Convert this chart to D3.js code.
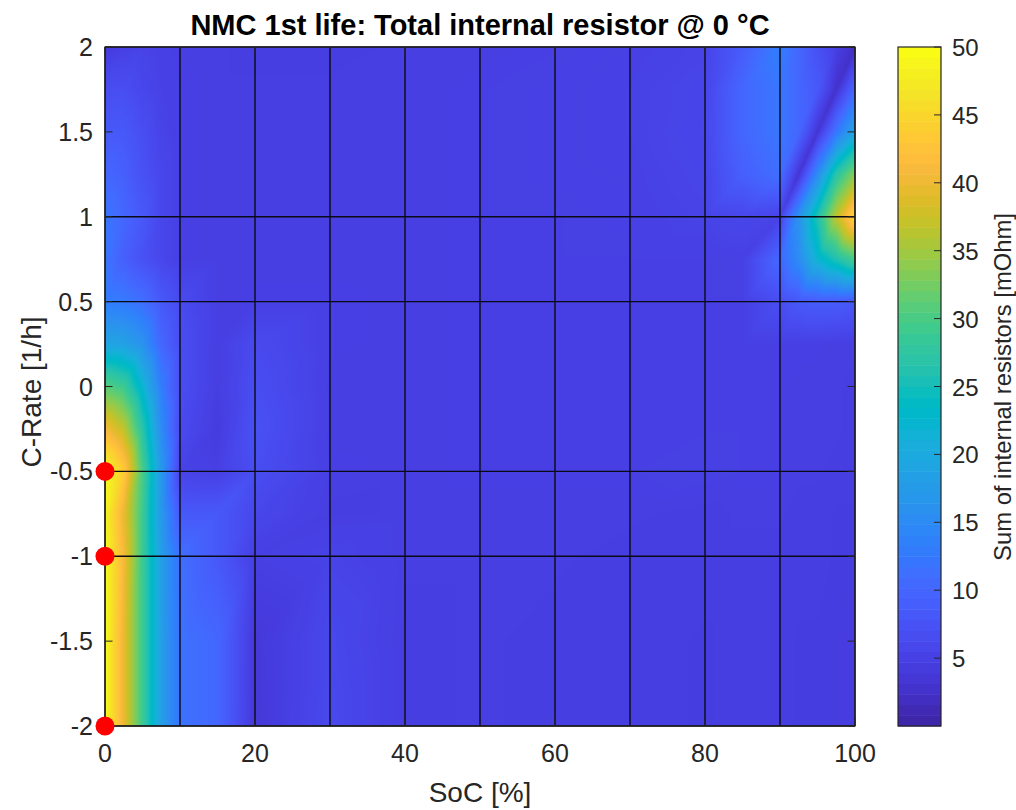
<!DOCTYPE html>
<html><head><meta charset="utf-8">
<script src="https://cdn.jsdelivr.net/npm/d3@7"></script>
<style>
body{margin:0;background:#fff;}
text{font-family:"Liberation Sans",Arial,Helvetica,sans-serif;fill:#262626;}
</style>
</head><body>
<svg id="chart" width="1016" height="810"></svg>
<script>
// ---------------- data ----------------
const socGrid = [0, 2.5, 5, 7.5, 10, 15, 20, 30, 40, 50, 60, 70, 80, 85, 90, 92.5, 95, 97.5, 100];
const crateGrid = [-2, -1.5, -1, -0.75, -0.5, -0.25, 0, 0.25, 0.5, 0.75, 1, 1.25, 1.5, 1.75, 2];
// total internal resistance [mOhm], one array per C-rate row (same order as crateGrid)
const R_m2_00 = [50, 40, 29, 18, 11.5, 10, 3.4, 5.8, 4.3, 4.4, 4.3, 4.3, 4.2, 4.3, 4.3, 4.2, 4.2, 4.1, 4.0];
const R_m1_50 = [50, 40, 29, 18, 11.5, 10, 3.5, 5.6, 4.3, 4.4, 4.3, 4.3, 4.2, 4.3, 4.3, 4.2, 4.2, 4.1, 4.0];
const R_m1_00 = [50, 41, 29, 18, 11, 8, 4.5, 5.0, 4.4, 4.4, 4.4, 4.3, 4.3, 4.3, 4.3, 4.3, 4.3, 4.2, 4.1];
const R_m0_75 = [49, 40, 29, 17, 8, 8, 5.5, 4.3, 4.4, 4.4, 4.4, 4.4, 4.3, 4.4, 4.4, 4.3, 4.3, 4.2, 4.2];
const R_m0_50 = [50, 44, 30, 17, 5, 4.5, 6.5, 4.5, 4.4, 4.5, 4.5, 4.5, 4.6, 4.5, 4.5, 4.4, 4.4, 4.3, 4.3];
const R_m0_25 = [41, 37, 27, 15, 6, 4.0, 7, 4.4, 4.4, 4.5, 4.5, 4.5, 4.5, 4.5, 4.5, 4.4, 4.4, 4.4, 4.3];
const R_p0_00 = [31, 29, 22, 13, 6.5, 4.3, 6.5, 4.4, 4.4, 4.5, 4.5, 4.5, 4.5, 4.5, 4.5, 4.4, 4.4, 4.4, 4.3];
const R_p0_25 = [19, 18.5, 16, 10, 6.5, 4.4, 6, 4.5, 4.4, 4.5, 4.5, 4.5, 4.5, 4.5, 4.5, 4.5, 4.5, 4.4, 4.4];
const R_p0_50 = [13, 12.5, 11, 8, 6, 4.4, 4.5, 4.5, 4.4, 4.5, 4.5, 4.5, 4.5, 4.5, 6.5, 8, 8.5, 8.5, 8];
const R_p0_75 = [12, 9, 7, 5.5, 4.5, 4.4, 4.4, 4.4, 4.4, 4.5, 4.5, 4.5, 4.5, 4.6, 10, 15, 22, 26, 30];
const R_p1_00 = [12, 10, 8, 5.5, 4.5, 4.4, 4.4, 4.4, 4.4, 4.5, 4.5, 4.6, 5, 5.5, 5, 16, 26, 37, 46];
const R_p1_25 = [10, 9, 7, 5.5, 4.5, 4.4, 4.4, 4.4, 4.4, 4.5, 4.6, 4.7, 5.2, 9, 11, 3, 15, 27, 34];
const R_p1_50 = [8, 8, 6.5, 5, 4.5, 4.4, 4.4, 4.4, 4.4, 4.5, 4.6, 4.8, 5.4, 10, 12, 10, 3, 12, 19];
const R_p1_75 = [6.5, 6.5, 5.5, 4.8, 4.5, 4.4, 4.4, 4.4, 4.4, 4.5, 4.6, 4.8, 5.3, 10, 12, 10, 8, 2.5, 10];
const R_p2_00 = [3.5, 4.5, 5, 4.6, 4.4, 4.4, 4.3, 4.3, 4.4, 4.4, 4.5, 4.7, 5, 8.5, 13, 10, 7, 4.5, 2];
const valueRows = [R_m2_00, R_m1_50, R_m1_00, R_m0_75, R_m0_50, R_m0_25, R_p0_00, R_p0_25,
                   R_p0_50, R_p0_75, R_p1_00, R_p1_25, R_p1_50, R_p1_75, R_p2_00];

// measured breakpoints (surface edges drawn as black mesh lines)
const meshSoC = [0, 10, 20, 30, 40, 50, 60, 70, 80, 90, 100];
const meshCrate = [-2, -1, -0.5, 0.5, 1, 2];

// red measurement markers
const markerSoC = [0, 0, 0];
const markerCrate = [-0.5, -1, -2];

// ticks
const xTicks = [0, 20, 40, 60, 80, 100];
const yTicks = [-2, -1.5, -1, -0.5, 0, 0.5, 1, 1.5, 2];
const cbTicks = [5, 10, 15, 20, 25, 30, 35, 40, 45, 50];
const cLimits = [0, 50];

const titleText = "NMC 1st life: Total internal resistor @ 0 °C";
const xLabel = "SoC [%]";
const yLabel = "C-Rate [1/h]";
const cbLabel = "Sum of internal resistors [mOhm]";

// parula (64)
const parula = [
[0.2422,0.1504,0.6603],[0.2504,0.1650,0.7076],[0.2578,0.1818,0.7511],[0.2647,0.1978,0.7952],
[0.2706,0.2147,0.8364],[0.2751,0.2342,0.8710],[0.2783,0.2559,0.8991],[0.2803,0.2782,0.9221],
[0.2813,0.3006,0.9414],[0.2810,0.3228,0.9579],[0.2795,0.3447,0.9717],[0.2760,0.3667,0.9829],
[0.2699,0.3892,0.9906],[0.2602,0.4123,0.9952],[0.2440,0.4358,0.9988],[0.2206,0.4603,0.9973],
[0.1963,0.4847,0.9892],[0.1834,0.5074,0.9798],[0.1786,0.5289,0.9682],[0.1764,0.5499,0.9520],
[0.1687,0.5703,0.9359],[0.1540,0.5902,0.9218],[0.1460,0.6091,0.9079],[0.1380,0.6276,0.8973],
[0.1248,0.6459,0.8883],[0.1113,0.6635,0.8763],[0.0952,0.6798,0.8598],[0.0689,0.6948,0.8394],
[0.0297,0.7082,0.8163],[0.0036,0.7203,0.7917],[0.0067,0.7312,0.7660],[0.0433,0.7411,0.7394],
[0.0964,0.7500,0.7120],[0.1408,0.7584,0.6842],[0.1717,0.7670,0.6554],[0.1938,0.7758,0.6251],
[0.2161,0.7843,0.5923],[0.2470,0.7918,0.5567],[0.2906,0.7973,0.5188],[0.3406,0.8008,0.4789],
[0.3909,0.8029,0.4354],[0.4456,0.8024,0.3909],[0.5044,0.7993,0.3480],[0.5616,0.7942,0.3045],
[0.6174,0.7876,0.2612],[0.6720,0.7793,0.2227],[0.7242,0.7698,0.1910],[0.7738,0.7598,0.1646],
[0.8203,0.7498,0.1535],[0.8634,0.7406,0.1596],[0.9035,0.7330,0.1774],[0.9393,0.7288,0.2100],
[0.9728,0.7298,0.2394],[0.9956,0.7434,0.2371],[0.9970,0.7659,0.2199],[0.9952,0.7893,0.2028],
[0.9892,0.8136,0.1885],[0.9786,0.8386,0.1766],[0.9676,0.8639,0.1643],[0.9610,0.8890,0.1537],
[0.9597,0.9135,0.1423],[0.9628,0.9373,0.1265],[0.9691,0.9606,0.1064],[0.9769,0.9839,0.0805]];

// ---------------- layout ----------------
const L = 105, R = 855, T = 47, B = 726;
const CBX0 = 898, CBX1 = 941;
const AX = "#262626";

const svg = d3.select("#chart");
const x = d3.scaleLinear().domain([0, 100]).range([L, R]);
const y = d3.scaleLinear().domain([-2, 2]).range([B, T]);
const cIdx = d3.scaleLinear().domain(cLimits).range([0, parula.length - 1]).clamp(true);
const cbY = d3.scaleLinear().domain(cLimits).range([B, T]);

function colorRGB(v) {
  const f = cIdx(v);
  const i = Math.min(parula.length - 2, Math.floor(f));
  const t = f - i;
  const a = parula[i], b = parula[i + 1];
  return [0, 1, 2].map(k => Math.round(255 * (a[k] + (b[k] - a[k]) * t)));
}

// each grid quad is split into two triangles along its rising diagonal (as a surface renderer does)
function interp(s, c) {
  let i = d3.bisectRight(socGrid, s) - 1;
  i = Math.max(0, Math.min(socGrid.length - 2, i));
  let j = d3.bisectRight(crateGrid, c) - 1;
  j = Math.max(0, Math.min(crateGrid.length - 2, j));
  const tx = Math.max(0, Math.min(1, (s - socGrid[i]) / (socGrid[i + 1] - socGrid[i])));
  const ty = Math.max(0, Math.min(1, (c - crateGrid[j]) / (crateGrid[j + 1] - crateGrid[j])));
  const v00 = valueRows[j][i], v10 = valueRows[j][i + 1];
  const v01 = valueRows[j + 1][i], v11 = valueRows[j + 1][i + 1];
  if (tx >= ty) return v00 + tx * (v10 - v00) + ty * (v11 - v10);
  return v00 + ty * (v01 - v00) + tx * (v11 - v01);
}

// ---------------- surface (interpolated shading) ----------------
const W = R - L, H = B - T;
const canvas = document.createElement("canvas");
canvas.width = W; canvas.height = H;
const ctx = canvas.getContext("2d");
const img = ctx.createImageData(W, H);
for (let py = 0; py < H; py++) {
  const c = y.invert(T + py + 0.5);
  for (let px = 0; px < W; px++) {
    const s = x.invert(L + px + 0.5);
    const rgb = colorRGB(interp(s, c));
    const o = (py * W + px) * 4;
    img.data[o] = rgb[0]; img.data[o + 1] = rgb[1]; img.data[o + 2] = rgb[2]; img.data[o + 3] = 255;
  }
}
ctx.putImageData(img, 0, 0);
svg.append("image").attr("x", L).attr("y", T).attr("width", W).attr("height", H)
  .attr("href", canvas.toDataURL());

// mesh lines
const mesh = svg.append("g").attr("stroke", "#0a0a14").attr("stroke-width", 1.4);
mesh.selectAll("line.v").data(meshSoC).join("line").attr("class", "v")
  .attr("x1", d => x(d)).attr("x2", d => x(d)).attr("y1", T).attr("y2", B);
mesh.selectAll("line.h").data(meshCrate).join("line").attr("class", "h")
  .attr("x1", L).attr("x2", R).attr("y1", d => y(d)).attr("y2", d => y(d));

// axes box and ticks
svg.append("rect").attr("x", L).attr("y", T).attr("width", W).attr("height", H)
  .attr("fill", "none").attr("stroke", AX).attr("stroke-width", 1.2);
const tk = svg.append("g").attr("stroke", AX).attr("stroke-width", 1);
tk.selectAll("line.xb").data(xTicks).join("line").attr("class", "xb")
  .attr("x1", d => x(d)).attr("x2", d => x(d)).attr("y1", B).attr("y2", B - 7.5);
tk.selectAll("line.xt").data(xTicks).join("line").attr("class", "xt")
  .attr("x1", d => x(d)).attr("x2", d => x(d)).attr("y1", T).attr("y2", T + 7.5);
tk.selectAll("line.yl").data(yTicks).join("line").attr("class", "yl")
  .attr("x1", L).attr("x2", L + 7.5).attr("y1", d => y(d)).attr("y2", d => y(d));
tk.selectAll("line.yr").data(yTicks).join("line").attr("class", "yr")
  .attr("x1", R).attr("x2", R - 7.5).attr("y1", d => y(d)).attr("y2", d => y(d));

svg.append("g").selectAll("text").data(xTicks).join("text")
  .attr("x", d => x(d)).attr("y", 762).attr("text-anchor", "middle")
  .attr("font-size", 25).text(d => d);
svg.append("g").selectAll("text").data(yTicks).join("text")
  .attr("x", L - 12).attr("y", d => y(d) + 9).attr("text-anchor", "end")
  .attr("font-size", 25).text(d => d);

svg.append("text").attr("x", (L + R) / 2).attr("y", 802).attr("text-anchor", "middle")
  .attr("font-size", 28).text(xLabel);
svg.append("text").attr("transform", `translate(41,392) rotate(-90)`)
  .attr("text-anchor", "middle").attr("font-size", 28).text(yLabel);
svg.append("text").attr("x", (L + R) / 2).attr("y", 35).attr("text-anchor", "middle")
  .attr("font-size", 29).attr("font-weight", "bold").style("fill", "#000").text(titleText);

// markers
svg.append("g").selectAll("circle").data(markerSoC.map((s, i) => [s, markerCrate[i]])).join("circle")
  .attr("cx", d => x(d[0])).attr("cy", d => y(d[1])).attr("r", 9.5).attr("fill", "#ff0000");

// ---------------- colorbar ----------------
const nC = parula.length;
const step = (cLimits[1] - cLimits[0]) / nC;
const bands = d3.range(nC).map(k => cLimits[0] + k * step);
svg.append("g").selectAll("rect").data(bands).join("rect")
  .attr("x", CBX0).attr("width", CBX1 - CBX0)
  .attr("y", d => cbY(d + step)).attr("height", d => cbY(d) - cbY(d + step) + 0.5)
  .attr("fill", (d, k) => `rgb(${parula[k].map(v => Math.round(v * 255)).join(",")})`);
svg.append("rect").attr("x", CBX0).attr("y", T).attr("width", CBX1 - CBX0).attr("height", H)
  .attr("fill", "none").attr("stroke", AX).attr("stroke-width", 1.2);
svg.append("g").attr("stroke", AX).selectAll("line").data(cbTicks).join("line")
  .attr("x1", CBX1 - 7).attr("x2", CBX1).attr("y1", d => cbY(d)).attr("y2", d => cbY(d));
svg.append("g").selectAll("text").data(cbTicks).join("text")
  .attr("x", 952).attr("y", d => cbY(d) + 9).attr("font-size", 24).text(d => d);
svg.append("text").attr("transform", `translate(1011,387) rotate(-90)`)
  .attr("text-anchor", "middle").attr("font-size", 23.8).text(cbLabel);
</script>
</body></html>
